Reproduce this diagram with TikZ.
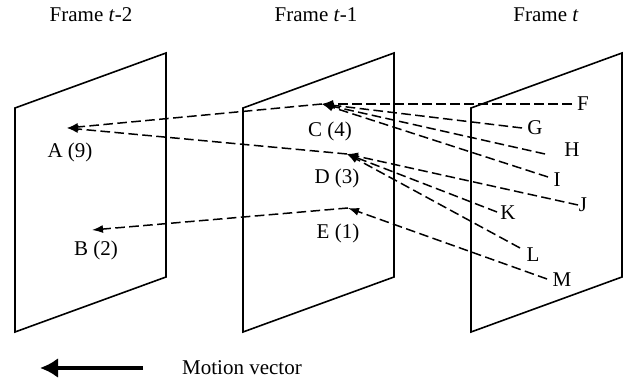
\documentclass[tikz,border=0pt]{standalone}
\usepackage{fontspec}
\setmainfont{Liberation Serif}
\usetikzlibrary{arrows.meta}

\begin{document}
\begin{tikzpicture}[
  x=0.5pt, y=-0.5pt,
  frame/.style={draw, line width=0.8pt},
  lbl/.style={font=\fontsize{10.5}{12}\selectfont, inner sep=1pt},
  mv/.style={dash pattern=on 4.8pt off 2.2pt, line width=0.75pt, -{Latex[length=5.5pt, width=4pt]}},
  bigarrow/.style={line width=2.1pt, -{Latex[length=9pt, width=10pt]}}
]
\useasboundingbox (0,0) rectangle (625,383);

% the three frames
\foreach \dx in {0,228,456}
  \draw[frame] (15+\dx,108) -- (166+\dx,53) -- (166+\dx,277) -- (15+\dx,332) -- cycle;

\node[lbl] (tt2) at (91,15) {Frame \textit{t}-2};
\node[lbl] (tt1) at (316,15) {Frame \textit{t}-1};
\node[lbl] (tt0) at (546,15) {Frame \textit{t}};

% arrow tips in frames t-2 and t-1
\coordinate (a) at (67,128);
\coordinate (b) at (92,230);
\coordinate (c) at (322,104);
\coordinate (d) at (347,154);
\coordinate (e) at (348,208);

\node[lbl] (labA) at (70,152) {A (9)};
\node[lbl] (labB) at (96,250) {B (2)};
\node[lbl] (labC) at (330,131) {C (4)};
\node[lbl] (labD) at (337,178) {D (3)};
\node[lbl] (labE) at (338,233) {E (1)};

% blocks in frame t
\coordinate (f) at (572,104);
\coordinate (g) at (522,128);
\coordinate (h) at (545,154);
\coordinate (i) at (548,177);
\coordinate (j) at (578,205);
\coordinate (k) at (497,212);
\coordinate (l) at (520,248);
\coordinate (m) at (547,279);

\node[lbl] (F) at (583,104) {F};
\node[lbl] (G) at (535,128) {G};
\node[lbl] (H) at (572,150) {H};
\node[lbl] (I) at (557,180) {I};
\node[lbl] (J) at (583,205) {J};
\node[lbl] (K) at (508,213) {K};
\node[lbl] (L) at (533,255) {L};
\node[lbl] (M) at (562,280) {M};

\foreach \s in {f,g,h,i}
  \draw[mv] (\s) -- (c);
\foreach \s in {j,k,l}
  \draw[mv] (\s) -- (d);
\draw[mv] (m) -- (e);

\draw[mv] (c) -- (a);
\draw[mv] (d) -- (a);
\draw[mv] (e) -- (b);

% legend
\coordinate (mvs) at (143,368);
\coordinate (mve) at (40,368);
\draw[bigarrow] (mvs) -- (mve);
\node[lbl] (mvlab) at (242,368) {Motion vector};
\end{tikzpicture}
\end{document}
